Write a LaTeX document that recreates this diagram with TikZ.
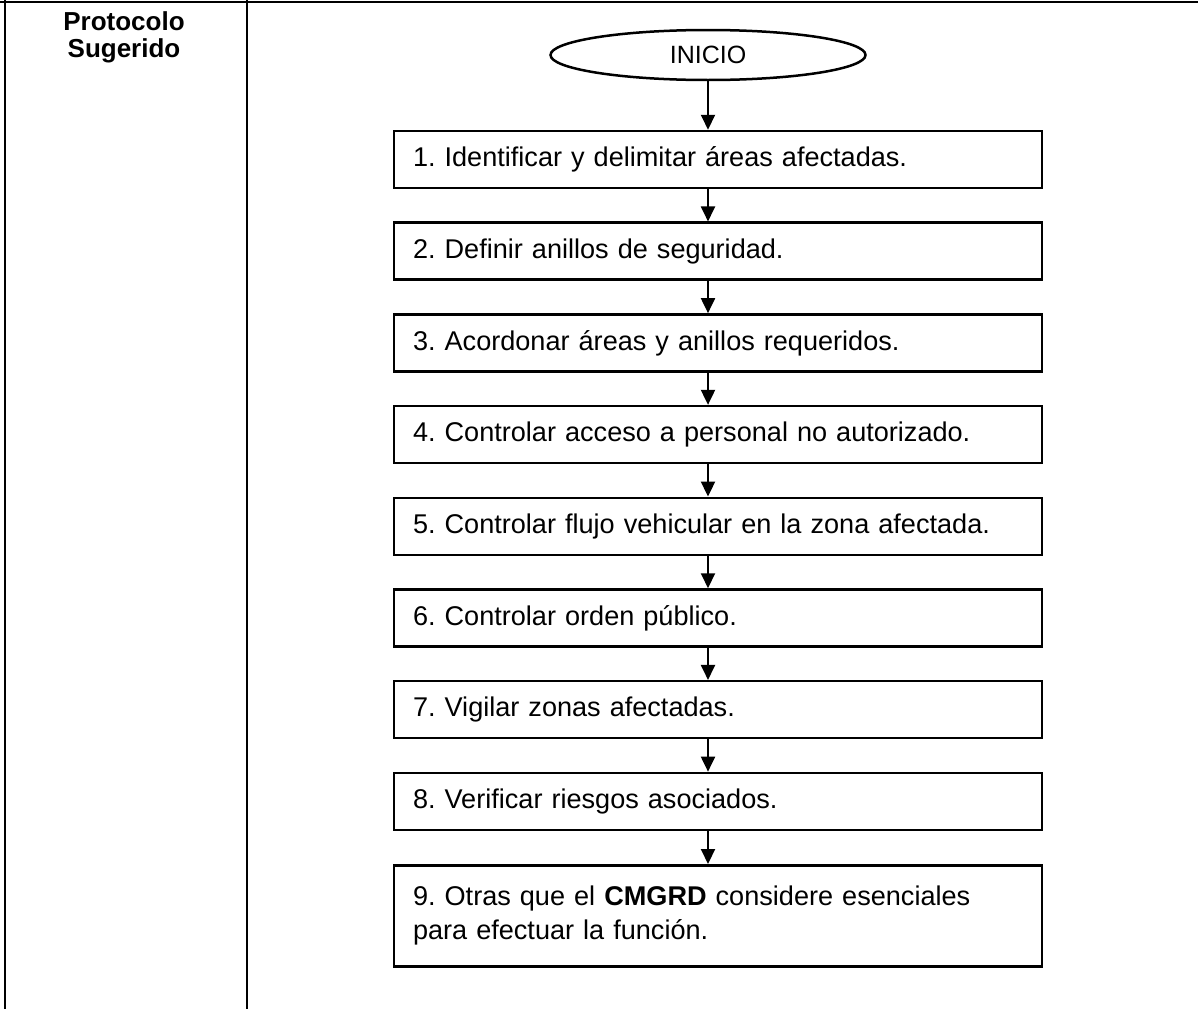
\documentclass[tikz,border=0pt]{standalone}
\usepackage{fontspec}
\setmainfont{Liberation Sans}
\usetikzlibrary{arrows.meta,positioning,shapes.geometric}
\frenchspacing
\tikzset{
  linea/.style={line width=2.5pt},
  paso/.style={draw, line width=2.5pt, text width=610pt, inner xsep=19pt,
    minimum height=57pt, align=left, font=\fontsize{27.1}{34}\selectfont},
  flecha/.style={line width=2pt, -{Triangle[length=15pt,width=14pt]}},
}
\begin{document}
\begin{tikzpicture}[x=1pt,y=-1pt]
    \useasboundingbox (0,0) rectangle (1198,1009);
    % tabla
    \draw[linea] (0,2) -- (1198,2);
    \draw[linea] (5,0) -- (5,1009);
    \draw[linea] (247,0) -- (247,1009);
    \node[font=\bfseries\fontsize{26}{27}\selectfont, align=center, anchor=north] (titulo) at (124,8) {Protocolo\\Sugerido};
    % flujo
    \node[draw, ellipse, linea, minimum width=315pt, minimum height=50pt,
      font=\fontsize{25}{30}\selectfont] (inicio) at (708,55) {INICIO};
    \foreach \i/\texto in {1/{1. Identificar y delimitar áreas afectadas.},
      2/{2. Definir anillos de seguridad.},
      3/{3. Acordonar áreas y anillos requeridos.},
      4/{4. Controlar acceso a personal no autorizado.},
      5/{5. Controlar flujo vehicular en la zona afectada.},
      6/{6. Controlar orden público.},
      7/{7. Vigilar zonas afectadas.},
      8/{8. Verificar riesgos asociados.}} {
      \pgfmathsetmacro{\yy}{159.5+(\i-1)*91.7}
      \node[paso] (b\i) at (718,\yy) {\texto};
    }
    \node[paso, minimum height=101pt, anchor=north] (b9) at (718,864)
      {9. Otras que el \textbf{CMGRD} considere esenciales\\para efectuar la función.};
    \draw[flecha] (inicio.south) -- (inicio.south |- b1.north);
    \foreach \i [evaluate=\i as \j using int(\i+1)] in {1,...,8}
      \draw[flecha] (b\i.south -| inicio.south) -- (inicio.south |- b\j.north);
\end{tikzpicture}
\end{document}
